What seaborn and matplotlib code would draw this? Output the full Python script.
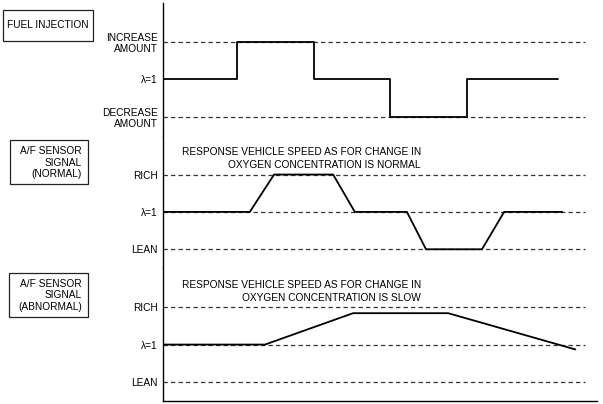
import seaborn as sns
import matplotlib.pyplot as plt
import pandas as pd
from matplotlib.patches import Rectangle

# time runs 0..100 across the axis; levels: -1 lean/decrease, 0 = lambda 1, +1 rich/increase
fuel_t = [0, 17, 17, 34.8, 34.8, 52.3, 52.3, 70, 70, 91]
fuel_level = [0, 0, 1, 1, 0, 0, -1, -1, 0, 0]

normal_t = [0, 20, 25.6, 39.2, 44.2, 56.2, 60.6, 73.5, 78.6, 92]
normal_level = [0, 0, 1, 1, 0, 0, -1, -1, 0, 0]

slow_t = [0, 23.5, 43.8, 65.7, 95]
slow_level = [0, 0, 0.84, 0.84, -0.13]

fuel_ticks = ["DECREASE\nAMOUNT", "λ=1", "INCREASE\nAMOUNT"]
sensor_ticks = ["LEAN", "λ=1", "RICH"]
panel_titles = ["FUEL INJECTION",
                "A/F SENSOR\nSIGNAL\n(NORMAL)",
                "A/F SENSOR\nSIGNAL\n(ABNORMAL)"]
notes = [None,
         "RESPONSE VEHICLE SPEED AS FOR CHANGE IN\nOXYGEN CONCENTRATION IS NORMAL",
         "RESPONSE VEHICLE SPEED AS FOR CHANGE IN\nOXYGEN CONCENTRATION IS SLOW"]

sns.set_theme(style="white")
plt.rcParams["font.family"] = ["Liberation Sans", "DejaVu Sans"]
plt.rcParams["text.color"] = "black"
FS = 7.3

W, H = 603, 404
fig, axes = plt.subplots(3, 1, figsize=(W / 100, H / 100), dpi=100, sharex=True)
fig.subplots_adjust(left=163 / W, right=597 / W, top=1 - 3 / H, bottom=1 - 401 / H, hspace=0)

signals = [
    pd.DataFrame({"t": fuel_t, "level": fuel_level}),
    pd.DataFrame({"t": normal_t, "level": normal_level}),
    pd.DataFrame({"t": slow_t, "level": slow_level}),
]
dash_levels = [[-1, 1], [-1, 0, 1], [-1, 0, 1]]
tick_sets = [fuel_ticks, sensor_ticks, sensor_ticks]

for i, ax in enumerate(axes):
    ax.hlines(dash_levels[i], 0, 97.2, colors="#333333", lw=0.9,
              linestyles=(0, (3.5, 2.5)), zorder=1)
    sns.lineplot(data=signals[i], x="t", y="level", ax=ax, sort=False,
                 estimator=None, color="black", lw=1.3, zorder=2)
    ax.set_xlim(0, 100)
    ax.set_ylim(-1.51, 2.04)
    ax.set_yticks([-1, 0, 1], tick_sets[i])
    ax.tick_params(axis="y", length=0, pad=4, labelsize=FS, colors="black")
    ax.set_xticks([])
    ax.set_xlabel("")
    ax.set_ylabel("")
    for side in ["top", "right", "bottom"]:
        ax.spines[side].set_visible(False)
    ax.spines["left"].set_color("black")
    ax.spines["left"].set_linewidth(1)
    if notes[i]:
        ax.text(59.4, 1.42, notes[i], ha="right", va="center", fontsize=FS,
                linespacing=1.4, color="black")

axes[2].spines["bottom"].set_visible(True)
axes[2].spines["bottom"].set_color("black")
axes[2].spines["bottom"].set_linewidth(1)

# label boxes on the left (pixel positions)
boxes = [(3, 10, 93, 41), (10, 140, 88, 184), (9, 273, 88, 317)]
for (x0, y0, x1, y1), title in zip(boxes, panel_titles):
    fig.add_artist(Rectangle((x0 / W, 1 - y1 / H), (x1 - x0) / W, (y1 - y0) / H,
                             transform=fig.transFigure, fill=False,
                             ec="#222222", lw=0.9))
    if "\n" in title:
        fig.text((x1 - 6) / W, 1 - (y0 + y1 + 1) / 2 / H, title, ha="right",
                 va="center", fontsize=FS, linespacing=1.2, color="black")
    else:
        fig.text((x0 + x1) / 2 / W, 1 - (y0 + y1) / 2 / H, title, ha="center",
                 va="center", fontsize=FS, color="black")

fig.savefig("out.png", dpi=100)
